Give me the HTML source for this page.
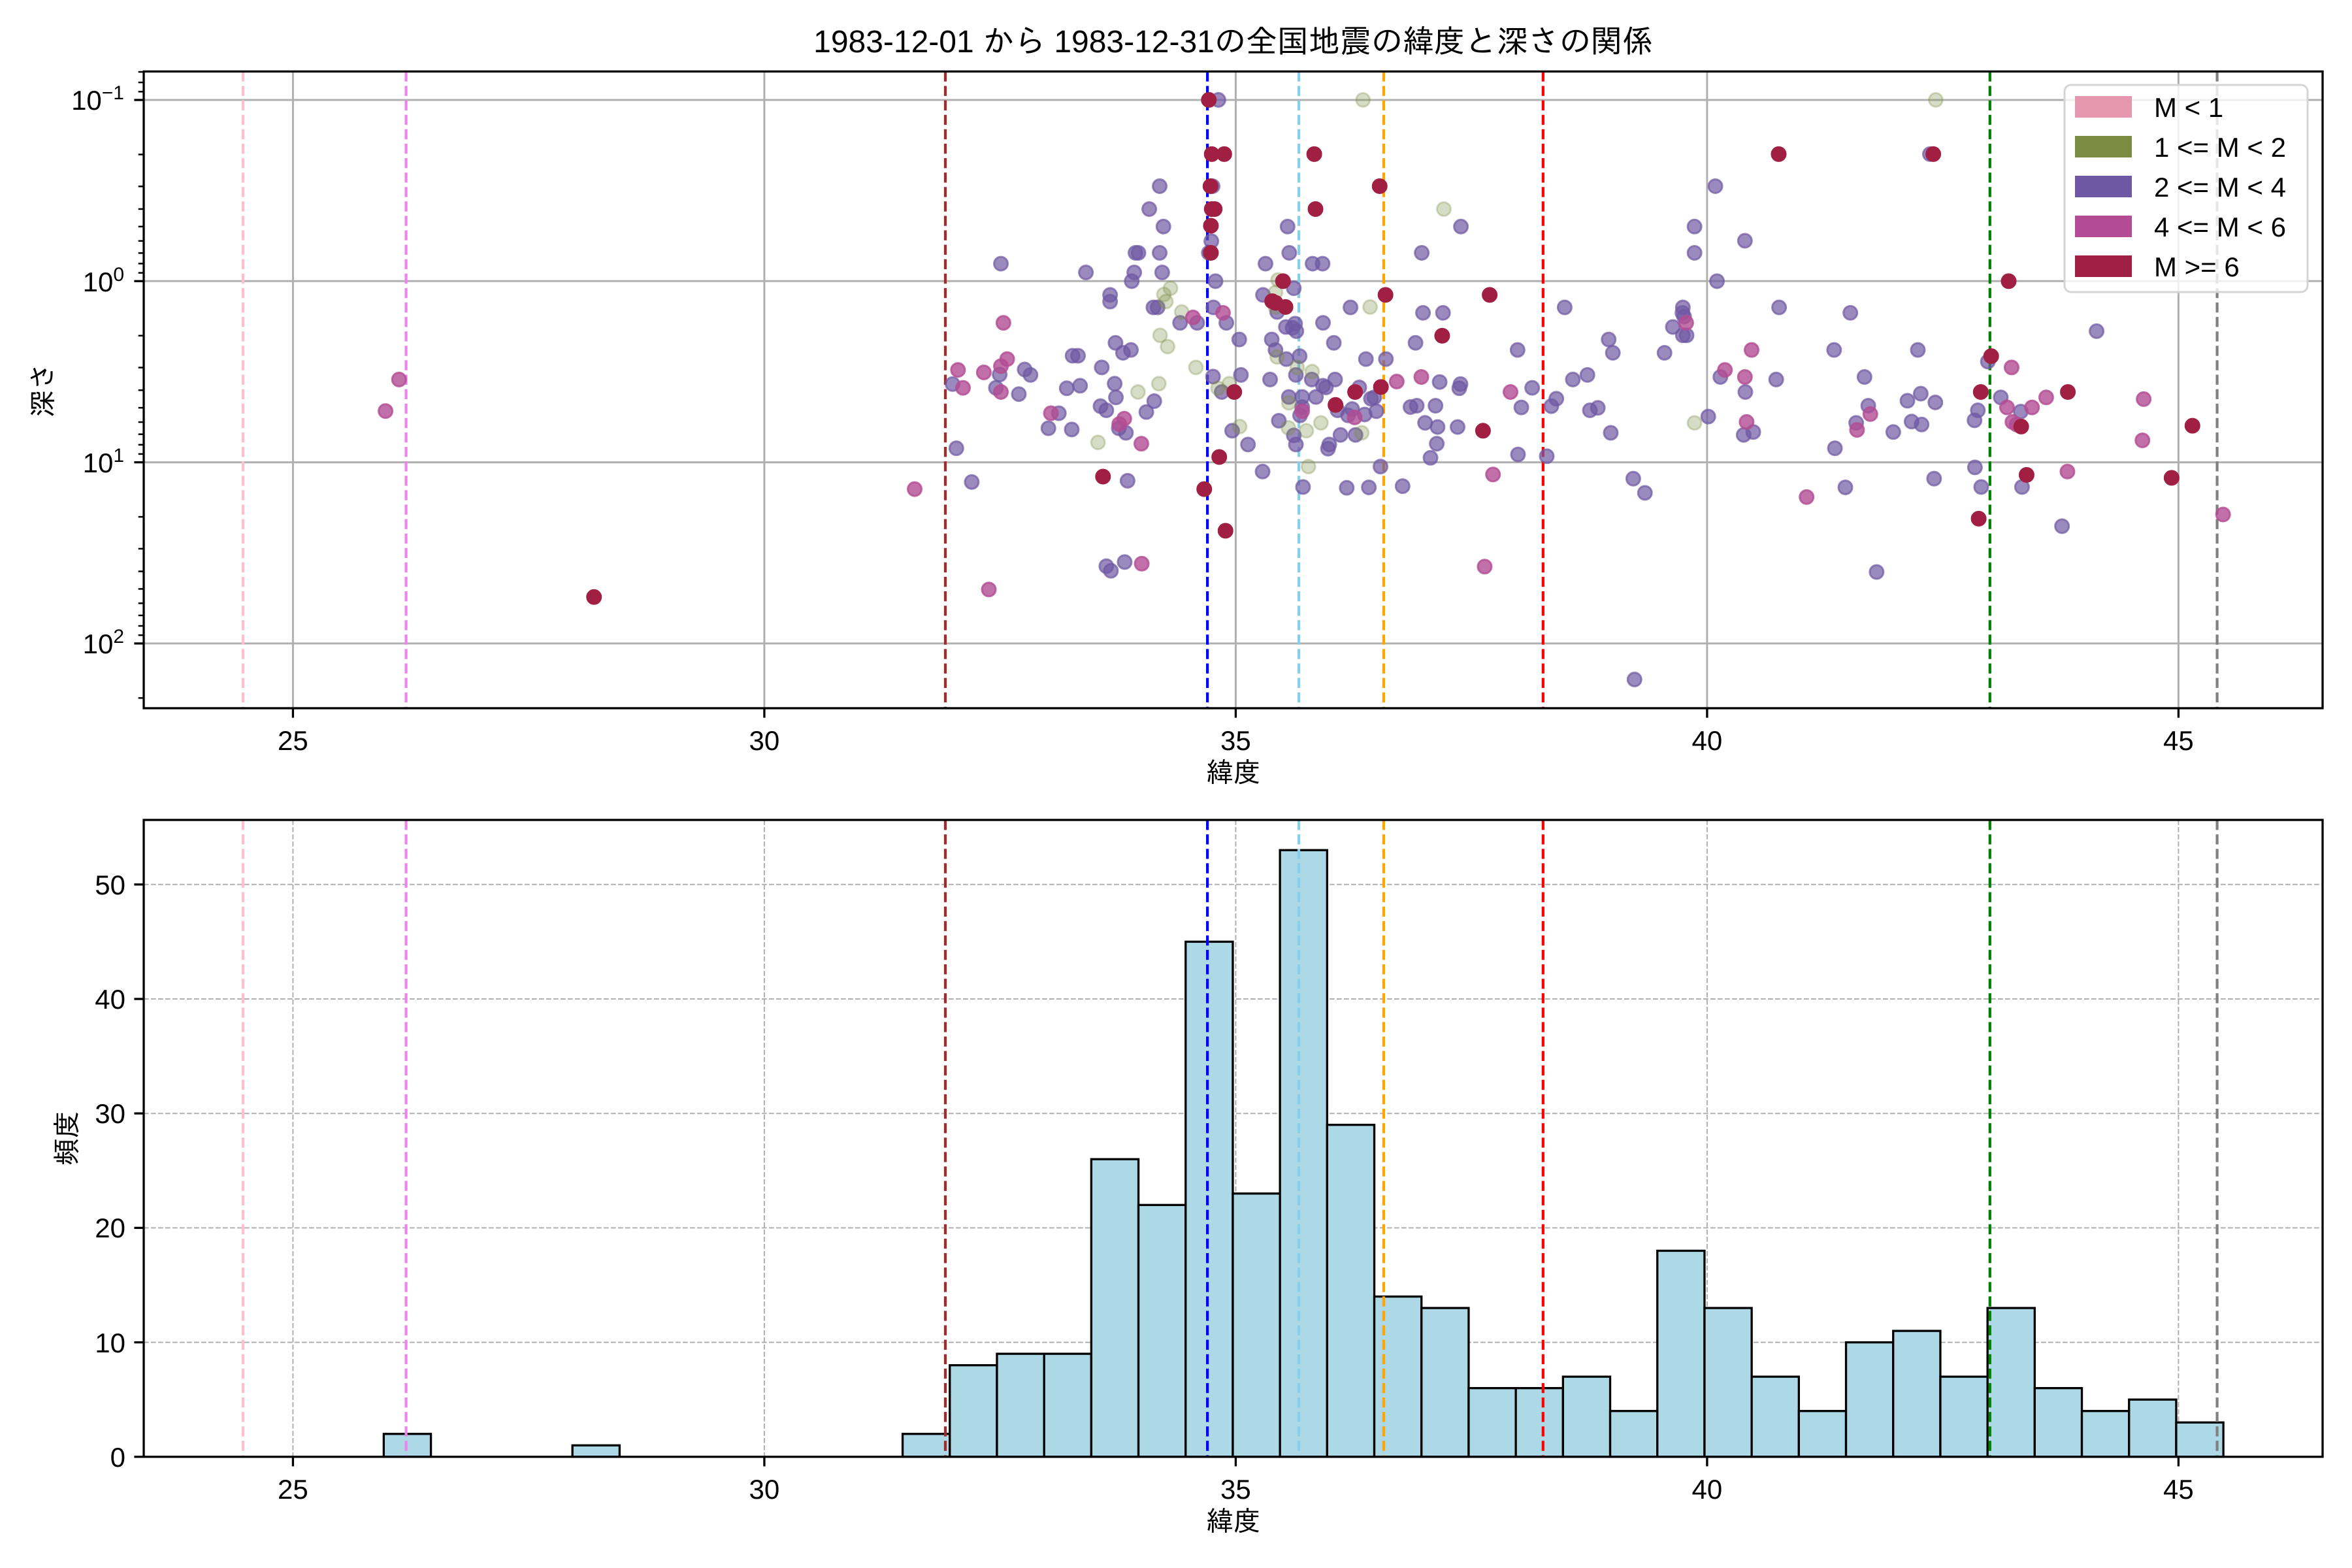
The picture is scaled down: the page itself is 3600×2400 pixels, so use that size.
<!DOCTYPE html>
<html><head><meta charset="utf-8">
<style>
html,body{margin:0;padding:0;background:#fff;}
svg{display:block;}
text{font-family:"Liberation Sans","IPAGothic","Noto Sans CJK JP",sans-serif;fill:#000;}
</style></head>
<body>
<svg id="s" xmlns="http://www.w3.org/2000/svg" width="3600" height="2400" viewBox="0 0 3600 2400">
<rect width="3600" height="2400" fill="#fff"/>
<g id="g1"></g>
<g id="g2"></g>
<text x="1888" y="80" font-size="48" text-anchor="middle">1983-12-01 から 1983-12-31の全国地震の緯度と深さの関係</text>
<g font-size="42" text-anchor="middle">
<text x="448.4" y="1148">25</text><text x="1169.9" y="1148">30</text><text x="1891.4" y="1148">35</text><text x="2612.9" y="1148">40</text><text x="3334.4" y="1148">45</text>
<text x="448.4" y="2294">25</text><text x="1169.9" y="2294">30</text><text x="1891.4" y="2294">35</text><text x="2612.9" y="2294">40</text><text x="3334.4" y="2294">45</text>
<text x="1888" y="1197">緯度</text>
<text x="1888" y="2343">緯度</text>
</g>
<g font-size="42" text-anchor="end">
<text x="190" y="168">10<tspan font-size="30" dy="-16">−1</tspan></text>
<text x="190" y="446">10<tspan font-size="30" dy="-16">0</tspan></text>
<text x="190" y="723">10<tspan font-size="30" dy="-16">1</tspan></text>
<text x="190" y="1000">10<tspan font-size="30" dy="-16">2</tspan></text>
<text x="192" y="2245">0</text><text x="192" y="2070">10</text><text x="192" y="1894">20</text><text x="192" y="1719">30</text><text x="192" y="1544">40</text><text x="192" y="1369">50</text>
</g>
<text font-size="42" text-anchor="middle" transform="translate(80,597) rotate(-90)">深さ</text>
<text font-size="42" text-anchor="middle" transform="translate(117,1742) rotate(-90)">頻度</text>
</svg>
<script>
(function(){
var NS="http://www.w3.org/2000/svg";
var g1=document.getElementById('g1'),g2=document.getElementById('g2');
var svg=document.getElementById('s');
function el(p,t,a){var e=document.createElementNS(NS,t);for(var k in a)e.setAttribute(k,a[k]);p.appendChild(e);return e;}
var L=220,R=3555,T1=109.4,B1=1084,T2=1255,B2=2229.8;
function X(l){return 448.4+(l-25)*144.3;}
function Y1(lg){return 153+(lg+1)*277.3;}
function Y2(c){return B2-c*17.52;}
[25,30,35,40,45].forEach(function(l){el(g1,'line',{x1:X(l),x2:X(l),y1:T1,y2:B1,stroke:'#b0b0b0','stroke-width':3});});
[-1,0,1,2].forEach(function(d){el(g1,'line',{x1:L,x2:R,y1:Y1(d),y2:Y1(d),stroke:'#b0b0b0','stroke-width':3});});
[25,30,35,40,45].forEach(function(l){el(g2,'line',{x1:X(l),x2:X(l),y1:T2,y2:B2,stroke:'#b0b0b0','stroke-width':2,'stroke-dasharray':'7.7,3.3'});});
[10,20,30,40,50].forEach(function(c){el(g2,'line',{x1:L,x2:R,y1:Y2(c),y2:Y2(c),stroke:'#b0b0b0','stroke-width':2,'stroke-dasharray':'7.7,3.3'});});
var counts=[2,0,0,0,1,0,0,0,0,0,0,2,8,9,9,26,22,45,23,53,29,14,13,6,6,7,4,18,13,7,4,10,11,7,13,6,4,5,3];
var mn=25.963,w=0.50034;
counts.forEach(function(c,i){if(c==0)return;var x0=X(mn+i*w),x1=X(mn+(i+1)*w);
el(g2,'rect',{x:x0,y:Y2(c),width:x1-x0,height:B2-Y2(c),fill:'#add8e6',stroke:'#000','stroke-width':3.3});});
var vl=[[24.47,'pink'],[26.2,'violet'],[31.92,'brown'],[34.70,'blue'],[35.67,'skyblue'],[36.57,'orange'],[38.26,'red'],[43.0,'green'],[45.41,'gray']];
vl.forEach(function(v){[[g1,T1,B1],[g2,T2,B2]].forEach(function(a){
el(a[0],'line',{x1:X(v[0]),x2:X(v[0]),y1:a[1],y2:a[2],stroke:v[1],'stroke-width':4.2,'stroke-dasharray':'15.4,6.7'});});});
var C={p:['#6f58a3',0.7],o:['#7b8b42',0.3],m:['#b34c94',0.8],r:['#a01f42',1]};
var pts=[];
function z4(x,y,c){pts.push([1400+x/1.568,100+y/1.568,c]);}
function z5(x,y,c){pts.push([2380+x/1.568,100+y/1.568,c]);}
function dp(x,y,c){pts.push([x*2.296,y*2.296,c]);}
var A;
A=[[729,83],[715,290],[588,290],[563,345],[597,387],[712,422],[706,450],[588,450],[530,450],[537,450],[207,476],[411,497],[527,497],[594,497],[521,518],[722,518],[469,551],[469,567],[573,581],[583,581],[717,581],[637,618],[678,618],[748,618],[842,476],[899,450],[895,387],[955,476],[979,476],[1217,450],[1311,387],[910,535],[836,551],[870,592],[891,628],[913,620],[907,630],[916,638],[980,618],[1046,581],[1220,594],[1268,594],[1560,581],[779,658],[857,658],[866,683],[892,705],[924,698],[1006,666],[1202,666],[1447,683],[1083,705],[1131,705],[482,666],[500,690],[519,683],[379,697],[392,697],[449,725],[264,730],[278,743],[204,742],[195,774],[250,789],[91,765],[365,775],[397,769],[480,764],[483,797],[575,806],[556,832],[446,818],[460,828],[346,835],[321,871],[377,874],[490,871],[507,882],[100,919],[137,1000],[511,997],[716,747],[783,743],[853,754],[915,743],[953,754],[980,769],[987,773],[1009,754],[1067,773],[1260,760],[1310,765],[1307,775],[1482,774],[1540,800],[1528,818],[1456,821],[737,784],[762,877],[800,910],[898,796],[930,796],[963,796],[1015,828],[1040,840],[1050,825],[1080,838],[1095,800],[1108,830],[1103,797],[1190,820],[1205,817],[1250,817],[1225,858],[1255,868],[1303,868],[1253,908],[1238,942],[1448,934],[1517,938],[874,853],[910,888],[915,910],[992,920],[995,910],[1022,887],[1058,887],[835,975],[932,1012],[1037,1014],[1090,1013],[1171,1010],[1118,963],[460,1202],[471,1213],[504,1192],[925,840],[930,820]];
A.forEach(function(a){z4(a[0],a[1],'p');});
A=[[1076,83],[1270,345],[614,535],[598,550],[603,567],[641,592],[589,648],[607,675],[675,725],[586,764],[536,784],[440,905],[755,764],[728,775],[872,515],[866,545],[866,580],[870,700],[918,725],[954,735],[1093,580],[898,810],[975,858],[897,870],[940,877],[1073,882],[945,963],[780,867]];
A.forEach(function(a){z4(a[0],a[1],'o');});
A=[[213,618],[222,705],[207,722],[104,731],[166,737],[116,774],[207,784],[327,835],[503,848],[491,861],[544,908],[668,605],[740,594],[1157,759],[1216,748],[1430,784],[1056,845],[930,830],[1388,982],[0,1017],[545,1196],[178,1258],[1368,1203]];
A.forEach(function(a){z4(a[0],a[1],'m');});
A=[[706,83],[713,213],[743,213],[710,290],[713,345],[720,345],[711,385],[711,450],[959,213],[1116,290],[962,345],[884,518],[1130,551],[1380,551],[1266,649],[858,566],[890,580],[866,570],[767,784],[1010,815],[1057,784],[1119,772],[1364,877],[731,940],[452,987],[695,1017],[746,1117]];
A.forEach(function(a){z4(a[0],a[1],'r');});
A=[[900,213],[385,290],[335,387],[456,421],[335,450],[389,518],[538,581],[709,594],[307,581],[306,594],[310,603],[283,628],[307,648],[316,648],[129,658],[139,690],[263,690],[670,683],[871,683],[1300,638],[78,743],[43,754],[397,748],[531,754],[743,748],[457,784],[84,828],[103,822],[752,817],[846,805],[878,788],[913,809],[1039,711],[1070,797],[1015,828],[1007,852],[1118,831],[368,843],[134,882],[453,887],[476,880],[723,858],[812,880],[856,855],[880,862],[672,919],[188,992],[216,1026],[697,1013],[910,992],[1008,965],[1023,1012],[1121,1012],[1217,1106],[772,1216],[191,1474]];
A.forEach(function(a){z5(a[0],a[1],'p');});
A=[[914,83],[335,858]];A.forEach(function(a){z5(a[0],a[1],'o');});
A=[[315,618],[472,683],[408,731],[456,748],[460,856],[757,837],[725,875],[1096,725],[1085,821],[1145,821],[1179,797],[1098,856],[1108,862],[1413,801],[1410,900],[1230,975],[604,1036]];
A.forEach(function(a){z5(a[0],a[1],'m');});
A=[[537,213],[908,213],[1089,518],[1047,698],[1022,784],[1231,784],[1119,867],[1132,983],[1017,1088],[1480,990],[1530,865]];
A.forEach(function(a){z5(a[0],a[1],'r');});
dp(257,274,'m');dp(266,253,'m');dp(396,398,'r');dp(1482,343,'m');
pts.forEach(function(p){var c=C[p[2]];
el(g1,'circle',{cx:p[0],cy:p[1],r:10.5,fill:c[0],'fill-opacity':c[1],stroke:c[0],'stroke-opacity':c[1],'stroke-width':3});});
[[T1,B1],[T2,B2]].forEach(function(a){el(svg,'rect',{x:L,y:a[0],width:R-L,height:a[1]-a[0],fill:'none',stroke:'#000','stroke-width':3.3});
[25,30,35,40,45].forEach(function(l){el(svg,'line',{x1:X(l),x2:X(l),y1:a[1],y2:a[1]+14.6,stroke:'#000','stroke-width':3.3});});});
[-1,0,1,2].forEach(function(d){el(svg,'line',{x1:L-14.6,x2:L,y1:Y1(d),y2:Y1(d),stroke:'#000','stroke-width':3.3});});
for(var d=-2;d<=2;d++)for(var k=2;k<=9;k++){var lg=d+Math.log10(k);var y=Y1(lg);if(y<T1||y>B1)continue;
el(svg,'line',{x1:L-8.3,x2:L,y1:y,y2:y,stroke:'#000','stroke-width':2.5});}
[0,10,20,30,40,50].forEach(function(c){el(svg,'line',{x1:L-14.6,x2:L,y1:Y2(c),y2:Y2(c),stroke:'#000','stroke-width':3.3});});
var lg=el(svg,'g',{});
el(lg,'rect',{x:3160,y:130,width:372,height:317,rx:10,fill:'#fff','fill-opacity':0.8,stroke:'#d4d4d4','stroke-width':3});
var cols=['#e497af','#7b8b42','#6f58a3','#b34c94','#a01f42'];
cols.forEach(function(c,i){el(lg,'rect',{x:3176,y:147+i*61,width:87,height:33,fill:c});});
})();
</script>
<svg style="position:absolute;left:0;top:0" width="3600" height="2400" viewBox="0 0 3600 2400">
<g font-size="42" style="font-family:'Liberation Sans',sans-serif">
<text x="3297" y="179">M &lt; 1</text>
<text x="3297" y="240">1 &lt;= M &lt; 2</text>
<text x="3297" y="301">2 &lt;= M &lt; 4</text>
<text x="3297" y="362">4 &lt;= M &lt; 6</text>
<text x="3297" y="423">M &gt;= 6</text>
</g>
</svg>
</body></html>
